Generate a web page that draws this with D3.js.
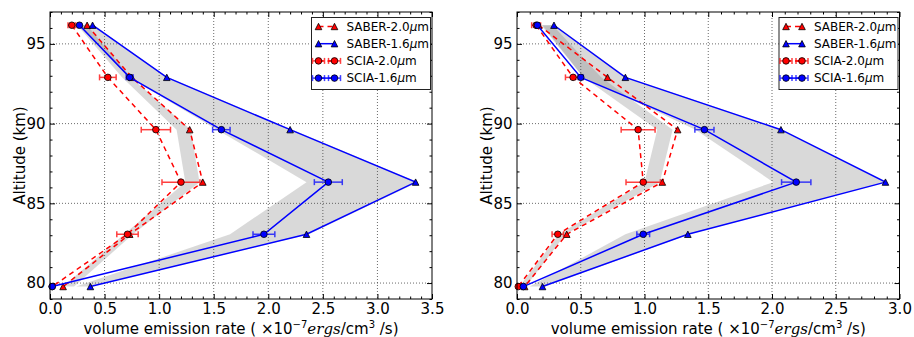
<!DOCTYPE html>
<html>
<head>
<meta charset="utf-8">
<script src="https://cdnjs.cloudflare.com/ajax/libs/d3/7.8.5/d3.min.js"></script>
<style>
body { margin: 0; background: #fff; }
text { font-family: "DejaVu Sans", sans-serif; }
</style>
</head>
<body>
<div id="draw"></div>
<script>
// altitudes shared by every series (km)
var alt = [96.17, 92.9, 89.62, 86.33, 83.06, 79.78];

// left panel
var leftSaber20 = [0.34, 0.75, 1.28, 1.40, 0.73, 0.12];
var leftSaber16 = [0.39, 1.07, 2.20, 3.35, 2.35, 0.37];
var leftScia20 = [0.20, 0.53, 0.97, 1.20, 0.71, 0.02];
var leftScia20Err = [0.035, 0.076, 0.134, 0.174, 0.098, 0.01];
var leftScia16 = [0.27, 0.73, 1.57, 2.55, 1.96, 0.02];
var leftScia16Err = [0.01, 0.032, 0.08, 0.128, 0.10, 0.01];
var leftBand16Lo = [0.27, 0.72, 1.53, 2.35, 1.65, 0.24];
var leftBand16Hi = [0.40, 1.08, 2.22, 3.37, 2.37, 0.36];
var leftBand20Lo = [0.25, 0.66, 1.16, 1.24, 0.68, 0.12];
var leftBand20Hi = [0.34, 0.74, 1.29, 1.37, 0.76, 0.22];

// right panel
var rightSaber20 = [0.17, 0.71, 1.26, 1.14, 0.39, 0.06];
var rightSaber16 = [0.29, 0.85, 2.07, 2.89, 1.34, 0.20];
var rightScia20 = [0.15, 0.44, 0.95, 0.99, 0.32, 0.01];
var rightScia20Err = [0.035, 0.06, 0.133, 0.135, 0.045, 0.01];
var rightScia16 = [0.16, 0.50, 1.47, 2.19, 0.99, 0.05];
var rightScia16Err = [0.01, 0.02, 0.075, 0.115, 0.05, 0.01];
var rightBand16Lo = [0.20, 0.52, 1.40, 2.01, 0.85, 0.10];
var rightBand16Hi = [0.30, 0.86, 2.08, 2.89, 1.35, 0.22];
var rightBand20Lo = [0.19, 0.52, 1.10, 1.00, 0.33, 0.02];
var rightBand20Hi = [0.28, 0.66, 1.22, 1.12, 0.38, 0.07];

var leftXTicks = [0, 0.5, 1.0, 1.5, 2.0, 2.5, 3.0, 3.5];
var rightXTicks = [0, 0.5, 1.0, 1.5, 2.0, 2.5, 3.0];
var yTicks = [80, 85, 90, 95];
var yDomain = [79, 97];

var legendNames = ['SABER-2.0', 'SABER-1.6', 'SCIA-2.0', 'SCIA-1.6'];

var width = 914, height = 337;
var plotTop = 12, plotBottom = 299;

var svg = d3
	.select('#draw')
	.append('svg')
	.attr('width', width)
	.attr('height', height);

var tri = 'M0,-3.2L3.3,3.2L-3.3,3.2Z';

function drawPanel(cfg) {
	var x = d3.scaleLinear().domain([0, cfg.xmax]).range([cfg.left, cfg.right]);
	var y = d3.scaleLinear().domain(yDomain).range([plotBottom, plotTop]);
	var g = svg.append('g');

	// shaded ranges
	var area = d3
		.area()
		.x0(function (d) { return x(d.lo); })
		.x1(function (d) { return x(d.hi); })
		.y(function (d) { return y(d.a); });
	cfg.bands.forEach(function (b) {
		g.append('path')
			.datum(alt.map(function (a, i) { return { a: a, lo: b[0][i], hi: b[1][i] }; }))
			.attr('d', area)
			.attr('fill', '#808080')
			.attr('fill-opacity', 0.3);
	});

	// grid
	g.selectAll('.gx')
		.data(cfg.xticks.slice(1, -1))
		.enter()
		.append('line')
		.attr('x1', function (d) { return x(d); })
		.attr('x2', function (d) { return x(d); })
		.attr('y1', plotTop)
		.attr('y2', plotBottom)
		.attr('stroke', '#444')
		.attr('stroke-width', 0.8)
		.attr('stroke-dasharray', '1,2');
	g.selectAll('.gy')
		.data(yTicks)
		.enter()
		.append('line')
		.attr('y1', function (d) { return y(d); })
		.attr('y2', function (d) { return y(d); })
		.attr('x1', cfg.left)
		.attr('x2', cfg.right)
		.attr('stroke', '#444')
		.attr('stroke-width', 0.8)
		.attr('stroke-dasharray', '1,2');

	// axes, ticks pointing inward on all sides
	var xMinor = d3.range(0, cfg.xmax + 0.001, 0.1).map(function (v) { return Math.round(v * 10) / 10; })
		.filter(function (v) { return Math.round(v * 10) % 5 !== 0; });
	var yMinor = d3.range(79, 98).filter(function (v) { return v % 5 !== 0; });

	function ax(axis, tr, vals, size, labels) {
		var a = g.append('g')
			.attr('transform', tr)
			.call(axis.tickValues(vals).tickSize(size).tickPadding(4.5)
				.tickFormat(labels ? labels : ''));
		a.select('.domain').remove();
		a.attr('font-size', 15).attr('font-family', 'DejaVu Sans');
		a.selectAll('text').attr('fill', '#000');
		return a;
	}
	ax(d3.axisBottom(x), 'translate(0,' + plotBottom + ')', cfg.xticks, -5, d3.format('.1f'));
	ax(d3.axisBottom(x), 'translate(0,' + plotBottom + ')', xMinor, -2.5);
	ax(d3.axisTop(x), 'translate(0,' + plotTop + ')', cfg.xticks, -5);
	ax(d3.axisTop(x), 'translate(0,' + plotTop + ')', xMinor, -2.5);
	ax(d3.axisLeft(y), 'translate(' + cfg.left + ',0)', yTicks, -5, d3.format('d'));
	ax(d3.axisLeft(y), 'translate(' + cfg.left + ',0)', yMinor, -2.5);
	ax(d3.axisRight(y), 'translate(' + cfg.right + ',0)', yTicks, -5);
	ax(d3.axisRight(y), 'translate(' + cfg.right + ',0)', yMinor, -2.5);

	// series
	var line = d3.line()
		.x(function (d) { return x(d.v); })
		.y(function (d) { return y(d.a); });

	cfg.series.forEach(function (s) {
		var pts = alt.map(function (a, i) { return { a: a, v: s.values[i], e: s.err ? s.err[i] : 0 }; });
		g.append('path')
			.datum(pts)
			.attr('d', line)
			.attr('fill', 'none')
			.attr('stroke', s.color)
			.attr('stroke-width', 1.5)
			.attr('stroke-dasharray', s.dashed ? '5,4' : null);
		if (s.err) {
			var eb = g.selectAll(null).data(pts).enter().append('g')
				.attr('stroke', s.color)
				.attr('stroke-width', 1.5)
				.attr('opacity', 0.75);
			eb.append('line')
				.attr('x1', function (d) { return x(d.v - d.e); })
				.attr('x2', function (d) { return x(d.v + d.e); })
				.attr('y1', function (d) { return y(d.a); })
				.attr('y2', function (d) { return y(d.a); });
			[-1, 1].forEach(function (k) {
				eb.append('line')
					.attr('x1', function (d) { return x(d.v + k * d.e); })
					.attr('x2', function (d) { return x(d.v + k * d.e); })
					.attr('y1', function (d) { return y(d.a) - 3; })
					.attr('y2', function (d) { return y(d.a) + 3; });
			});
		}
		var mk = g.selectAll(null).data(pts).enter();
		if (s.marker === 'tri') {
			mk.append('path')
				.attr('d', tri)
				.attr('transform', function (d) { return 'translate(' + x(d.v) + ',' + y(d.a) + ')'; })
				.attr('fill', s.color)
				.attr('stroke', '#000')
				.attr('stroke-width', 0.8);
		} else {
			mk.append('circle')
				.attr('cx', function (d) { return x(d.v); })
				.attr('cy', function (d) { return y(d.a); })
				.attr('r', 3.3)
				.attr('fill', s.color)
				.attr('stroke', '#000')
				.attr('stroke-width', 0.8);
		}
	});

	// frame
	g.append('rect')
		.attr('x', cfg.left)
		.attr('y', plotTop)
		.attr('width', cfg.right - cfg.left)
		.attr('height', plotBottom - plotTop)
		.attr('fill', 'none')
		.attr('stroke', '#000')
		.attr('stroke-width', 1);

	// axis labels
	var cx = (cfg.left + cfg.right) / 2;
	var xl = g.append('text')
		.attr('x', cx)
		.attr('y', 334)
		.attr('text-anchor', 'middle')
		.attr('font-size', 15);
	xl.append('tspan').text('volume emission rate ( \u00d710');
	xl.append('tspan').attr('font-size', 10).attr('dy', -6).text('\u22127');
	xl.append('tspan').attr('dy', 6).attr('font-family', 'DejaVu Serif').attr('font-style', 'italic').text('ergs');
	xl.append('tspan').text('/cm');
	xl.append('tspan').attr('font-size', 10).attr('dy', -6).text('3');
	xl.append('tspan').attr('dy', 6).text(' /s)');

	g.append('text')
		.attr('transform', 'translate(' + (cfg.left - 25.5) + ',' + (plotTop + plotBottom) / 2 + ') rotate(-90)')
		.attr('text-anchor', 'middle')
		.attr('font-size', 15)
		.text('Altitude (km)');

	// legend
	var lw = 119, lh = 72;
	var lx = cfg.right - 1.5 - lw, ly = plotTop + 5.5;
	var lg = g.append('g').attr('transform', 'translate(' + lx + ',' + ly + ')');
	lg.append('rect')
		.attr('width', lw)
		.attr('height', lh)
		.attr('fill', '#fff')
		.attr('stroke', '#222')
		.attr('stroke-width', 1);
	cfg.series.forEach(function (s, i) {
		var ry = 9 + i * 17.2;
		var hx = [7, 23];
		lg.append('line')
			.attr('x1', hx[0]).attr('x2', hx[1])
			.attr('y1', ry).attr('y2', ry)
			.attr('stroke', s.color)
			.attr('stroke-width', 1.5)
			.attr('stroke-dasharray', s.dashed ? '5,4' : null);
		hx.forEach(function (h) {
			if (s.err) {
				var e = lg.append('g').attr('stroke', s.color).attr('stroke-width', 1.5).attr('opacity', 0.75);
				e.append('line').attr('x1', h - 6).attr('x2', h + 6).attr('y1', ry).attr('y2', ry);
				e.append('line').attr('x1', h - 6).attr('x2', h - 6).attr('y1', ry - 3).attr('y2', ry + 3);
				e.append('line').attr('x1', h + 6).attr('x2', h + 6).attr('y1', ry - 3).attr('y2', ry + 3);
			}
			if (s.marker === 'tri') {
				lg.append('path').attr('d', tri)
					.attr('transform', 'translate(' + h + ',' + ry + ')')
					.attr('fill', s.color).attr('stroke', '#000').attr('stroke-width', 0.8);
			} else {
				lg.append('circle').attr('cx', h).attr('cy', ry).attr('r', 3.3)
					.attr('fill', s.color).attr('stroke', '#000').attr('stroke-width', 0.8);
			}
		});
		var t = lg.append('text')
			.attr('x', 35)
			.attr('y', ry + 4.3)
			.attr('font-size', 12);
		t.append('tspan').text(legendNames[i]);
		t.append('tspan').attr('font-style', 'italic').text('\u03bc');
		t.append('tspan').text('m');
	});
}

drawPanel({
	left: 50, right: 432, xmax: 3.5, xticks: leftXTicks,
	bands: [[leftBand16Lo, leftBand16Hi], [leftBand20Lo, leftBand20Hi]],
	series: [
		{ values: leftSaber20, color: '#ff0000', dashed: true, marker: 'tri' },
		{ values: leftSaber16, color: '#0000ff', dashed: false, marker: 'tri' },
		{ values: leftScia20, err: leftScia20Err, color: '#ff0000', dashed: true, marker: 'circle' },
		{ values: leftScia16, err: leftScia16Err, color: '#0000ff', dashed: false, marker: 'circle' }
	]
});

drawPanel({
	left: 517, right: 899.5, xmax: 3.0, xticks: rightXTicks,
	bands: [[rightBand16Lo, rightBand16Hi], [rightBand20Lo, rightBand20Hi]],
	series: [
		{ values: rightSaber20, color: '#ff0000', dashed: true, marker: 'tri' },
		{ values: rightSaber16, color: '#0000ff', dashed: false, marker: 'tri' },
		{ values: rightScia20, err: rightScia20Err, color: '#ff0000', dashed: true, marker: 'circle' },
		{ values: rightScia16, err: rightScia16Err, color: '#0000ff', dashed: false, marker: 'circle' }
	]
});
</script>
</body>
</html>
